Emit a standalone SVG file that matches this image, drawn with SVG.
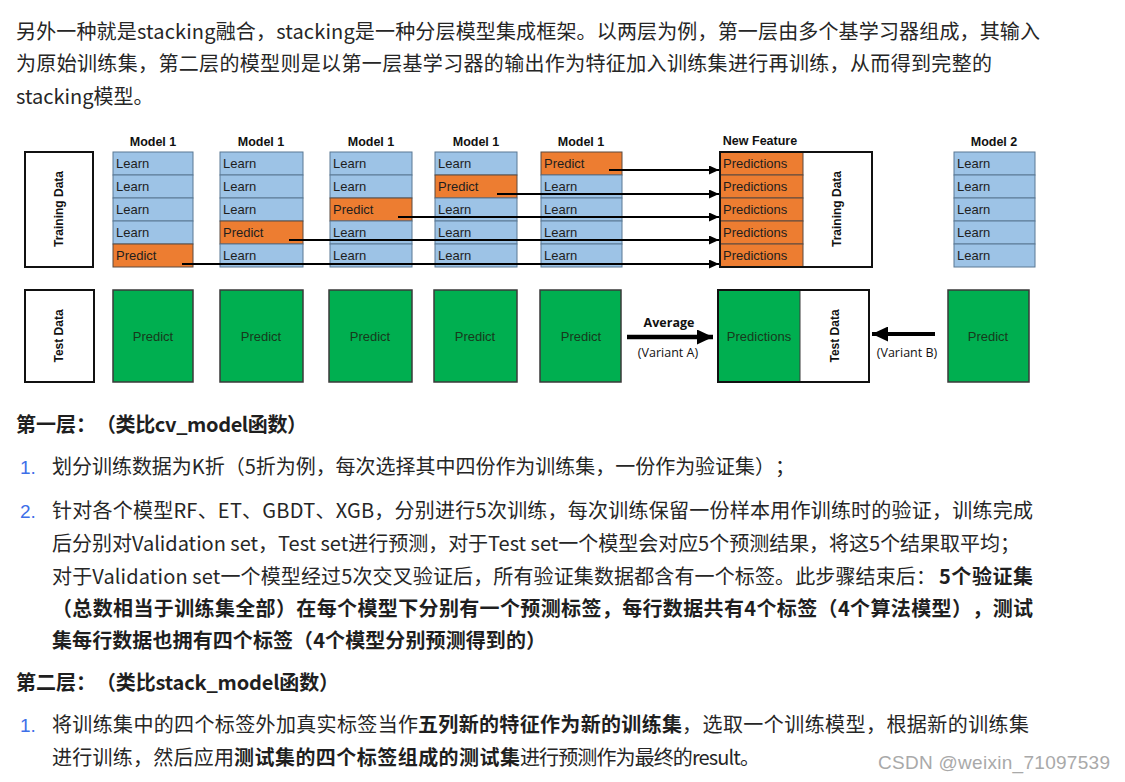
<svg xmlns="http://www.w3.org/2000/svg" width="1125" height="782" viewBox="0 0 1125 782">
<style>
.body{font-family:"Noto Sans CJK SC","Liberation Sans",sans-serif;font-size:20px;fill:#262626;text-spacing-trim:space-all}
.b{font-weight:bold;fill:#1f1f1f}
.num{font-family:"Liberation Sans",Arial,sans-serif;font-size:19px;fill:#3d6fe8}
.lrn{fill:#9DC3E6;stroke:#5A7894;stroke-width:1}
.prd{fill:#ED7D31;stroke:#5a4a40;stroke-width:1}
.grn{fill:#00AF50;stroke:#3a3a3a;stroke-width:1.5}
.box{fill:#fff;stroke:#111;stroke-width:2}
.frame{fill:none;stroke:#111;stroke-width:2}
.cl{font-family:"Liberation Sans",Arial,sans-serif;font-size:13px;fill:#1e1e1e}
.gl{font-family:"Liberation Sans",Arial,sans-serif;font-size:13px;fill:#173a1c;text-anchor:middle}
.hd{font-family:"Liberation Sans",Arial,sans-serif;font-size:12.5px;font-weight:bold;fill:#111;text-anchor:middle}
.rot{font-family:"Liberation Sans",Arial,sans-serif;font-size:12px;font-weight:bold;fill:#111;text-anchor:middle;dominant-baseline:central}
.al{font-family:"Open Sans","Liberation Sans",sans-serif;font-size:12.5px;fill:#111;text-anchor:middle}
.wm{font-family:"Liberation Sans",Arial,sans-serif;font-size:19px;fill:#a9a9a9}
.arr{stroke:#000;stroke-width:2;fill:none}
</style>
<defs>
<marker id="ah" markerUnits="userSpaceOnUse" markerWidth="10" markerHeight="9" refX="10" refY="4.5" orient="auto">
<path d="M0,0 L10,4.5 L0,9 Z" fill="#000"/>
</marker>
<marker id="ahb" markerUnits="userSpaceOnUse" markerWidth="16" markerHeight="15" refX="16" refY="7.5" orient="auto">
<path d="M0,0 L16,7.5 L0,15 Z" fill="#000"/>
</marker>
</defs>
<rect width="1125" height="782" fill="#fff"/>

<g id="intro">
<text class="body" x="16" y="39" textLength="1024" lengthAdjust="spacing">另外一种就是stacking融合，stacking是一种分层模型集成框架。以两层为例，第一层由多个基学习器组成，其输入</text>
<text class="body" x="16" y="71" textLength="976" lengthAdjust="spacing">为原始训练集，第二层的模型则是以第一层基学习器的输出作为特征加入训练集进行再训练，从而得到完整的</text>
<text class="body" x="16" y="104">stacking模型。</text>
</g>

<g id="headers">
<text class="hd" x="153" y="146">Model 1</text>
<text class="hd" x="261" y="146">Model 1</text>
<text class="hd" x="371" y="146">Model 1</text>
<text class="hd" x="476" y="146">Model 1</text>
<text class="hd" x="581" y="146">Model 1</text>
<text class="hd" x="760" y="145">New Feature</text>
<text class="hd" x="994" y="146">Model 2</text>
</g>

<g id="training-data">
<rect class="box" x="25" y="152" width="68" height="115"/>
<text class="rot" transform="translate(59,209) rotate(-90)">Training Data</text>
</g>

<g id="model1-a">
<rect class="lrn" x="113" y="152" width="80" height="23"/><text class="cl" x="116" y="168">Learn</text>
<rect class="lrn" x="113" y="175" width="80" height="23"/><text class="cl" x="116" y="191">Learn</text>
<rect class="lrn" x="113" y="198" width="80" height="23"/><text class="cl" x="116" y="214">Learn</text>
<rect class="lrn" x="113" y="221" width="80" height="23"/><text class="cl" x="116" y="237">Learn</text>
<rect class="prd" x="113" y="244" width="80" height="23"/><text class="cl" x="116" y="260">Predict</text>
</g>
<g id="model1-b">
<rect class="lrn" x="220" y="152" width="83" height="23"/><text class="cl" x="223" y="168">Learn</text>
<rect class="lrn" x="220" y="175" width="83" height="23"/><text class="cl" x="223" y="191">Learn</text>
<rect class="lrn" x="220" y="198" width="83" height="23"/><text class="cl" x="223" y="214">Learn</text>
<rect class="prd" x="220" y="221" width="83" height="23"/><text class="cl" x="223" y="237">Predict</text>
<rect class="lrn" x="220" y="244" width="83" height="23"/><text class="cl" x="223" y="260">Learn</text>
</g>
<g id="model1-c">
<rect class="lrn" x="330" y="152" width="82" height="23"/><text class="cl" x="333" y="168">Learn</text>
<rect class="lrn" x="330" y="175" width="82" height="23"/><text class="cl" x="333" y="191">Learn</text>
<rect class="prd" x="330" y="198" width="82" height="23"/><text class="cl" x="333" y="214">Predict</text>
<rect class="lrn" x="330" y="221" width="82" height="23"/><text class="cl" x="333" y="237">Learn</text>
<rect class="lrn" x="330" y="244" width="82" height="23"/><text class="cl" x="333" y="260">Learn</text>
</g>
<g id="model1-d">
<rect class="lrn" x="435" y="152" width="82" height="23"/><text class="cl" x="438" y="168">Learn</text>
<rect class="prd" x="435" y="175" width="82" height="23"/><text class="cl" x="438" y="191">Predict</text>
<rect class="lrn" x="435" y="198" width="82" height="23"/><text class="cl" x="438" y="214">Learn</text>
<rect class="lrn" x="435" y="221" width="82" height="23"/><text class="cl" x="438" y="237">Learn</text>
<rect class="lrn" x="435" y="244" width="82" height="23"/><text class="cl" x="438" y="260">Learn</text>
</g>
<g id="model1-e">
<rect class="prd" x="541" y="152" width="81" height="23"/><text class="cl" x="544" y="168">Predict</text>
<rect class="lrn" x="541" y="175" width="81" height="23"/><text class="cl" x="544" y="191">Learn</text>
<rect class="lrn" x="541" y="198" width="81" height="23"/><text class="cl" x="544" y="214">Learn</text>
<rect class="lrn" x="541" y="221" width="81" height="23"/><text class="cl" x="544" y="237">Learn</text>
<rect class="lrn" x="541" y="244" width="81" height="23"/><text class="cl" x="544" y="260">Learn</text>
</g>

<g id="new-feature">
<rect class="box" x="720" y="152" width="152" height="115"/>
<rect class="prd" x="720" y="152" width="83" height="23"/><text class="cl" x="723" y="168">Predictions</text>
<rect class="prd" x="720" y="175" width="83" height="23"/><text class="cl" x="723" y="191">Predictions</text>
<rect class="prd" x="720" y="198" width="83" height="23"/><text class="cl" x="723" y="214">Predictions</text>
<rect class="prd" x="720" y="221" width="83" height="23"/><text class="cl" x="723" y="237">Predictions</text>
<rect class="prd" x="720" y="244" width="83" height="23"/><text class="cl" x="723" y="260">Predictions</text>
<rect class="frame" x="720" y="152" width="152" height="115"/>
<text class="rot" transform="translate(837,209) rotate(-90)">Training Data</text>
</g>

<g id="model2">
<rect class="lrn" x="954" y="152" width="81" height="23"/><text class="cl" x="957" y="168">Learn</text>
<rect class="lrn" x="954" y="175" width="81" height="23"/><text class="cl" x="957" y="191">Learn</text>
<rect class="lrn" x="954" y="198" width="81" height="23"/><text class="cl" x="957" y="214">Learn</text>
<rect class="lrn" x="954" y="221" width="81" height="23"/><text class="cl" x="957" y="237">Learn</text>
<rect class="lrn" x="954" y="244" width="81" height="23"/><text class="cl" x="957" y="260">Learn</text>
</g>

<g id="test-data">
<rect class="box" x="25" y="290" width="69" height="92"/>
<text class="rot" transform="translate(59,336) rotate(-90)">Test Data</text>
</g>
<g id="test-predict-a"><rect class="grn" x="113" y="290" width="80" height="92"/><text class="gl" x="153" y="341">Predict</text></g>
<g id="test-predict-b"><rect class="grn" x="220" y="290" width="83" height="92"/><text class="gl" x="261" y="341">Predict</text></g>
<g id="test-predict-c"><rect class="grn" x="329" y="290" width="83" height="92"/><text class="gl" x="370" y="341">Predict</text></g>
<g id="test-predict-d"><rect class="grn" x="434" y="290" width="83" height="92"/><text class="gl" x="475" y="341">Predict</text></g>
<g id="test-predict-e"><rect class="grn" x="540" y="290" width="81" height="92"/><text class="gl" x="581" y="341">Predict</text></g>

<g id="test-predictions">
<rect class="box" x="718" y="290" width="151" height="92"/>
<rect x="718" y="290" width="82" height="92" fill="#00AF50"/>
<line x1="800" y1="290" x2="800" y2="382" stroke="#3a3a3a" stroke-width="1"/>
<rect class="frame" x="718" y="290" width="151" height="92"/>
<text class="gl" x="759" y="341">Predictions</text>
<text class="rot" transform="translate(835,336) rotate(-90)">Test Data</text>
</g>
<g id="model2-predict"><rect class="grn" x="948" y="290" width="81" height="92"/><text class="gl" x="988" y="341">Predict</text></g>

<g id="connectors">
<line class="arr" x1="609" y1="170" x2="719" y2="170" marker-end="url(#ah)"/>
<line class="arr" x1="497" y1="194" x2="719" y2="194" marker-end="url(#ah)"/>
<line class="arr" x1="398" y1="217" x2="719" y2="217" marker-end="url(#ah)"/>
<line class="arr" x1="289" y1="240" x2="719" y2="240" marker-end="url(#ah)"/>
<line class="arr" x1="182" y1="264" x2="719" y2="264" marker-end="url(#ah)"/>
<line x1="627" y1="337" x2="713" y2="337" stroke="#000" stroke-width="4.5" marker-end="url(#ahb)"/>
<line x1="935" y1="334" x2="872" y2="334" stroke="#000" stroke-width="4" marker-end="url(#ahb)"/>
<text class="al" x="669" y="327" font-weight="bold">Average</text>
<text class="al" x="668" y="357">(Variant A)</text>
<text class="al" x="907" y="357">(Variant B)</text>
</g>

<g id="layer1">
<text class="body b" x="16" y="432">第一层：</text>
<text class="body b" x="96" y="432" textLength="211" lengthAdjust="spacing">（类比cv_model函数）</text>
<text class="num" x="20" y="474">1.</text>
<text class="body" x="52" y="474" textLength="743" lengthAdjust="spacing">划分训练数据为K折（5折为例，每次选择其中四份作为训练集，一份作为验证集）；</text>
<text class="num" x="20" y="518">2.</text>
<text class="body" x="52" y="518" textLength="981" lengthAdjust="spacing">针对各个模型RF、ET、GBDT、XGB，分别进行5次训练，每次训练保留一份样本用作训练时的验证，训练完成</text>
<text class="body" x="52" y="551" textLength="968" lengthAdjust="spacing">后分别对Validation set，Test set进行预测，对于Test set一个模型会对应5个预测结果，将这5个结果取平均；</text>
<text class="body" x="52" y="584" textLength="884" lengthAdjust="spacing">对于Validation set一个模型经过5次交叉验证后，所有验证集数据都含有一个标签。此步骤结束后：</text>
<text class="body b" x="939" y="584" textLength="94" lengthAdjust="spacing">5个验证集</text>
<text class="body b" x="52" y="616" textLength="981" lengthAdjust="spacing">（总数相当于训练集全部）在每个模型下分别有一个预测标签，每行数据共有4个标签（4个算法模型），测试</text>
<text class="body b" x="52" y="648" textLength="494" lengthAdjust="spacing">集每行数据也拥有四个标签（4个模型分别预测得到的）</text>
</g>

<g id="layer2">
<text class="body b" x="16" y="690">第二层：</text>
<text class="body b" x="96" y="690" textLength="243" lengthAdjust="spacing">（类比stack_model函数）</text>
<text class="num" x="20" y="732">1.</text>
<text class="body" x="52" y="732" textLength="366" lengthAdjust="spacing">将训练集中的四个标签外加真实标签当作</text>
<text class="body b" x="418" y="732" textLength="264" lengthAdjust="spacing">五列新的特征作为新的训练集</text>
<text class="body" x="682" y="732" textLength="347" lengthAdjust="spacing">，选取一个训练模型，根据新的训练集</text>
<text class="body" x="52" y="765" textLength="182" lengthAdjust="spacing">进行训练，然后应用</text>
<text class="body b" x="234" y="765" textLength="286" lengthAdjust="spacing">测试集的四个标签组成的测试集</text>
<text class="body" x="520" y="765" textLength="240" lengthAdjust="spacing">进行预测作为最终的result。</text>
</g>

<g id="watermark">
<text class="wm" x="878" y="769" textLength="232" lengthAdjust="spacing">CSDN @weixin_71097539</text>
</g>
</svg>
